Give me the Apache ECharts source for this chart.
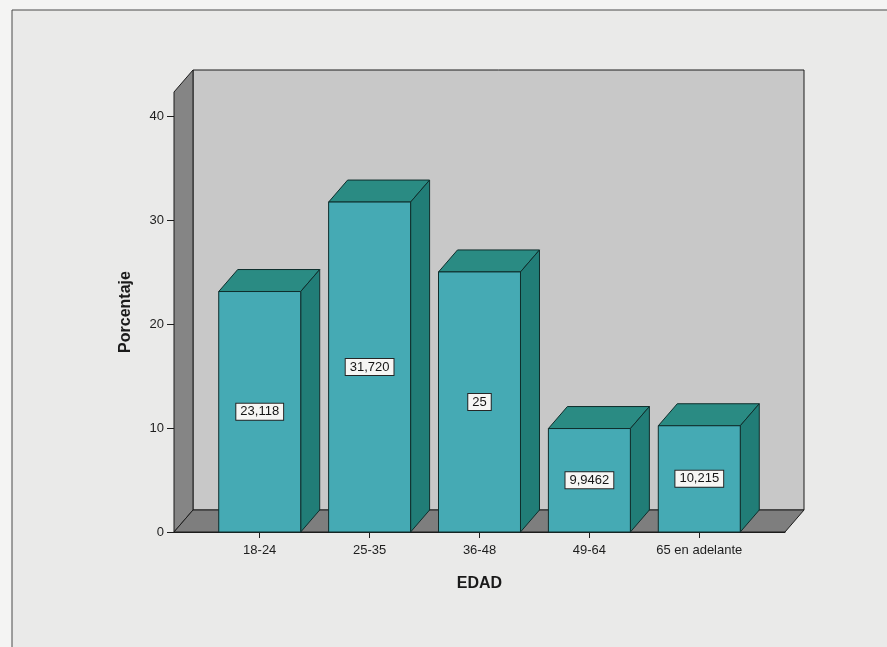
<!DOCTYPE html>
<html>
<head>
<meta charset="utf-8">
<script src="https://cdn.jsdelivr.net/npm/echarts@6/dist/echarts.min.js"></script>
<style>
  html, body { margin: 0; padding: 0; background: #f4f4f3; }
  #chart { width: 887px; height: 647px; }
</style>
</head>
<body>
<div id="chart"></div>
<script>
// Age groups and the share of respondents in each one
const categories = ['18-24', '25-35', '36-48', '49-64', '65 en adelante'];
const percentages = [23.118, 31.720, 25, 9.9462, 10.215];
const labelDecimals = [3, 3, 0, 4, 3];
const yTickValues = [0, 10, 20, 30, 40];
const xTickValues = [0, 1, 2, 3, 4];

// Extent of the plotting box and the oblique depth used for the 3D look
const X_MIN = -0.78, X_MAX = 4.78, Y_MAX = 42.3;
const HALF_BAR = 0.373;
const DEPTH_X = 19, DEPTH_Y = -22;
const FONT = '"Liberation Sans", Arial, sans-serif';

function fmt(v, d) { return v.toFixed(d).replace('.', ','); }
function shift(p) { return [p[0] + DEPTH_X, p[1] + DEPTH_Y]; }

// Back wall, left wall and floor of the chart box, with the value-axis ticks
function renderWalls(params, api) {
  const fl = api.coord([X_MIN, 0]);
  const fr = api.coord([X_MAX, 0]);
  const tl = api.coord([X_MIN, Y_MAX]);
  const bl = shift(fl), br = shift(fr), btl = shift(tl);
  const btr = [br[0], btl[1]];
  const edge = { stroke: '#1c1c1c', lineWidth: 1 };
  const ticks = yTickValues.map(t => {
    const p = api.coord([X_MIN, t]);
    const y = Math.round(p[1]) + 0.5;
    return { type: 'line', shape: { x1: p[0] - 7, y1: y, x2: p[0], y2: y }, style: { stroke: '#1c1c1c', lineWidth: 1 } };
  });
  return {
    type: 'group',
    children: [
      { type: 'polygon', shape: { points: [bl, br, btr, btl] }, style: Object.assign({ fill: '#c8c8c8' }, edge) },
      { type: 'polygon', shape: { points: [fl, tl, btl, bl] }, style: Object.assign({ fill: '#858585' }, edge) },
      { type: 'polygon', shape: { points: [fl, fr, br, bl] }, style: Object.assign({ fill: '#7e7e7e' }, edge) }
    ].concat(ticks)
  };
}

// One prism per age group: top, side and front faces plus the value box
function renderBar(params, api) {
  const i = api.value(0), v = api.value(1);
  const a = api.coord([i - HALF_BAR, 0]);
  const b = api.coord([i + HALF_BAR, 0]);
  const c = api.coord([i + HALF_BAR, v]);
  const d = api.coord([i - HALF_BAR, v]);
  const edge = { stroke: '#0f2e2c', lineWidth: 1 };
  return {
    type: 'group',
    children: [
      { type: 'polygon', shape: { points: [d, c, shift(c), shift(d)] }, style: Object.assign({ fill: '#2a8b83' }, edge) },
      { type: 'polygon', shape: { points: [b, c, shift(c), shift(b)] }, style: Object.assign({ fill: '#217d77' }, edge) },
      { type: 'polygon', shape: { points: [a, b, c, d] }, style: Object.assign({ fill: '#45aab4' }, edge) },
      {
        type: 'text',
        x: (a[0] + b[0]) / 2,
        y: (a[1] + d[1]) / 2,
        style: {
          text: fmt(v, labelDecimals[params.dataIndex]),
          fill: '#151515',
          font: '13px ' + FONT,
          align: 'center',
          verticalAlign: 'middle',
          backgroundColor: '#f6f6f4',
          borderColor: '#262626',
          borderWidth: 1,
          padding: [2, 4, 1, 4]
        }
      }
    ]
  };
}

const chart = echarts.init(document.getElementById('chart'));

chart.setOption({
  animation: false,
  backgroundColor: '#f4f4f3',
  graphic: [{
    type: 'rect',
    z: -10,
    shape: { x: 12, y: 10, width: 900, height: 700 },
    style: { fill: '#eaeae9', stroke: '#4a4a4a', lineWidth: 1 }
  }],
  grid: { left: 174, right: 102, top: 92, bottom: 115 },
  xAxis: {
    type: 'value',
    min: X_MIN,
    max: X_MAX,
    splitLine: { show: false },
    axisLine: { show: true, lineStyle: { color: '#1c1c1c' } },
    axisTick: { show: true, customValues: xTickValues, length: 6, lineStyle: { color: '#1c1c1c' } },
    axisLabel: {
      customValues: xTickValues,
      formatter: v => categories[Math.round(v)],
      color: '#1e1e1e',
      fontSize: 13,
      fontFamily: FONT,
      margin: 12
    },
    name: 'EDAD',
    nameLocation: 'middle',
    nameGap: 44,
    nameTextStyle: { fontSize: 16, fontWeight: 'bold', color: '#1a1a1a', fontFamily: FONT }
  },
  yAxis: {
    type: 'value',
    min: 0,
    max: Y_MAX,
    interval: 10,
    splitLine: { show: false },
    axisLine: { show: true, lineStyle: { color: '#1c1c1c' } },
    axisTick: { show: false },
    axisLabel: {
      customValues: yTickValues,
      color: '#1e1e1e',
      fontSize: 13,
      fontFamily: FONT,
      margin: 10
    },
    name: 'Porcentaje',
    nameLocation: 'middle',
    nameGap: 40,
    nameTextStyle: { fontSize: 16, fontWeight: 'bold', color: '#1a1a1a', fontFamily: FONT }
  },
  series: [
    {
      type: 'custom',
      name: 'walls',
      renderItem: renderWalls,
      data: [[0, 0]],
      silent: true,
      z: 1
    },
    {
      type: 'custom',
      name: 'Porcentaje',
      renderItem: renderBar,
      data: percentages.map((v, i) => [i, v]),
      encode: { x: 0, y: 1 },
      z: 3
    }
  ]
});
</script>
</body>
</html>
